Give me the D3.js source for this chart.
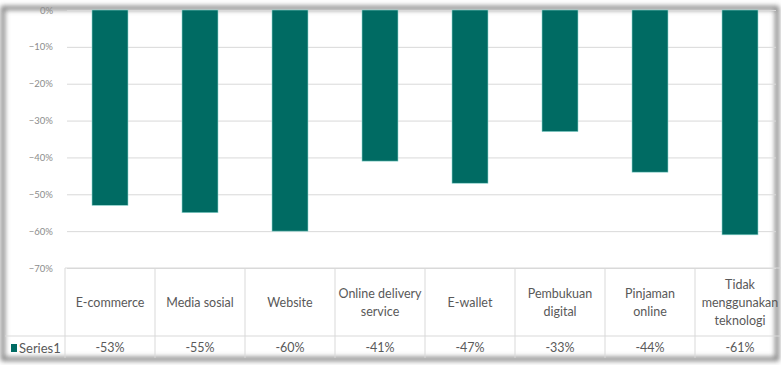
<!DOCTYPE html>
<html>
<head>
<meta charset="utf-8">
<script src="https://cdn.jsdelivr.net/npm/d3@7"></script>
<style>
  html, body { margin: 0; padding: 0; background: #fff; }
  svg text { font-family: Lato, "DejaVu Sans Condensed", sans-serif; fill: #595959; }
</style>
</head>
<body>
<div id="chart"></div>
<script>
// Chart data
const categories = ["E-commerce", "Media sosial", "Website", "Online delivery\nservice", "E-wallet", "Pembukuan\ndigital", "Pinjaman\nonline", "Tidak\nmenggunakan\nteknologi"];
const values = [-0.53, -0.55, -0.60, -0.41, -0.47, -0.33, -0.44, -0.61];
const valueLabels = ["-53%", "-55%", "-60%", "-41%", "-47%", "-33%", "-44%", "-61%"];
const tickValues = [0, -0.1, -0.2, -0.3, -0.4, -0.5, -0.6, -0.7];
const seriesName = "Series1";

const width = 781;
const height = 365;
const barColor = "#006b63";
const gridColor = "#d9d9d9";

const svg = d3.select("#chart")
    .append("svg")
    .attr("width", width)
    .attr("height", height);

// soft shadowed frame round the picture
const defs = svg.append("defs");
defs.append("filter").attr("id", "blur")
    .append("feGaussianBlur").attr("stdDeviation", 2.5);

svg.append("rect")
    .attr("x", 3).attr("y", 8)
    .attr("width", width - 7).attr("height", 351)
    .attr("fill", "none")
    .attr("stroke", "#7a7a7a")
    .attr("stroke-width", 4)
    .attr("filter", "url(#blur)");

// Scales
const x = d3.scaleBand()
    .domain(categories)
    .range([65, 785])
    .paddingInner(0.6)
    .paddingOuter(0.3);

const y = d3.scaleLinear()
    .domain([0, -0.7])
    .range([10, 268]);

// Gridlines
svg.append("g")
    .attr("transform", "translate(67,0)")
    .call(d3.axisLeft(y).tickValues(tickValues).tickSize(-(width - 72)).tickFormat(""))
    .call(g => g.select(".domain").remove())
    .call(g => g.selectAll("line").attr("stroke", gridColor).attr("stroke-width", 1));

// Y axis labels
svg.append("g")
    .attr("transform", "translate(56,0)")
    .call(d3.axisLeft(y).tickValues(tickValues).tickSize(0).tickFormat(d3.format(".0%")))
    .call(g => g.select(".domain").remove())
    .call(g => g.selectAll("text")
        .attr("font-size", 9.5)
        .style("font-family", "Lato, \"DejaVu Sans Condensed\", sans-serif")
        .style("fill", "#8c8c8c"));

// Bars
svg.append("g").selectAll("rect")
    .data(values)
    .enter()
    .append("rect")
    .attr("x", (d, i) => x(categories[i]))
    .attr("y", d => y(0))
    .attr("width", x.bandwidth())
    .attr("height", d => y(d) - y(0))
    .attr("fill", barColor)
    .attr("stroke", "#8fd6d0")
    .attr("stroke-width", 0.6);

// Data table
const tableTop = 268;
const rowLine = 336;
const tableBottom = 358;
const step = x.step();
const table = svg.append("g");

// vertical cell borders
table.selectAll("line.v")
    .data(d3.range(categories.length + 1))
    .enter()
    .append("line")
    .attr("class", "v")
    .attr("x1", i => 65 + i * step)
    .attr("x2", i => 65 + i * step)
    .attr("y1", tableTop)
    .attr("y2", tableBottom)
    .attr("stroke", gridColor);

table.append("line")
    .attr("x1", 65).attr("x2", width)
    .attr("y1", tableTop).attr("y2", tableTop)
    .attr("stroke", gridColor);

table.append("line")
    .attr("x1", 5).attr("x2", width)
    .attr("y1", rowLine).attr("y2", rowLine)
    .attr("stroke", gridColor);

// category labels (multi-line)
const lineHeight = 18;
table.selectAll("text.cat")
    .data(categories)
    .enter()
    .append("text")
    .attr("class", "cat")
    .attr("text-anchor", "middle")
    .attr("font-size", 12.5)
    .each(function(d) {
        const lines = d.split("\n");
        const cx = x(d) + x.bandwidth() / 2;
        const mid = (tableTop + rowLine) / 2 + 1;
        const y0 = mid - (lines.length - 1) * lineHeight / 2;
        lines.forEach((t, k) => {
            d3.select(this).append("tspan")
                .attr("x", cx)
                .attr("y", y0 + k * lineHeight)
                .attr("dy", "0.35em")
                .text(t);
        });
    });

// value row
table.selectAll("text.val")
    .data(valueLabels)
    .enter()
    .append("text")
    .attr("class", "val")
    .attr("text-anchor", "middle")
    .attr("font-size", 12.5)
    .attr("x", (d, i) => x(categories[i]) + x.bandwidth() / 2)
    .attr("y", 348)
    .attr("dy", "0.35em")
    .text(d => d);

// legend key
table.append("rect")
    .attr("x", 11).attr("y", 344)
    .attr("width", 6).attr("height", 8)
    .attr("fill", barColor);

table.append("text")
    .attr("x", 19).attr("y", 348)
    .attr("dy", "0.35em")
    .attr("font-size", 13)
    .text(seriesName);
</script>
</body>
</html>
